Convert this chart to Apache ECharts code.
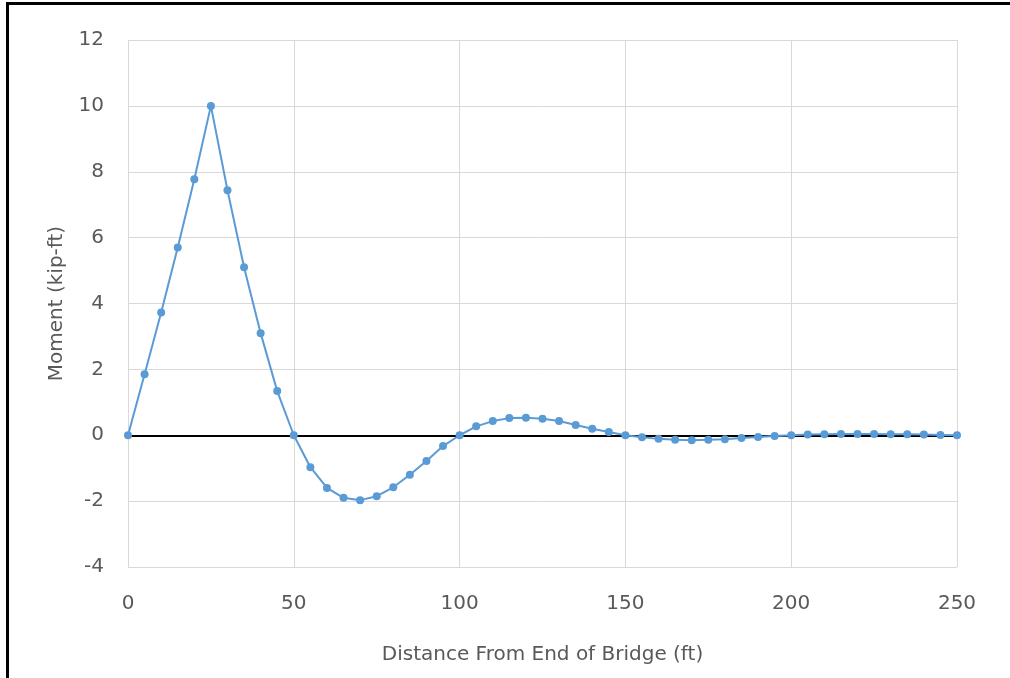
<!DOCTYPE html>
<html>
<head>
<meta charset="utf-8">
<script src="https://cdn.jsdelivr.net/npm/echarts@6/dist/echarts.min.js"></script>
<style>
  html, body { margin: 0; padding: 0; background: #fff; }
  #wrap { position: relative; width: 1010px; height: 678px; }
  #chart { position: absolute; left: 0; top: 0; width: 1010px; height: 678px; }
  .bt { position: absolute; left: 6px; top: 2px; width: 1004px; height: 3px; background: #000; }
  .bl { position: absolute; left: 6px; top: 2px; width: 3px; height: 676px; background: #000; }
</style>
</head>
<body>
<div id="wrap">
  <div id="chart"></div>
  <div class="bt"></div>
  <div class="bl"></div>
</div>
<script>
const distances = [0,5,10,15,20,25,30,35,40,45,50,55,60,65,70,75,80,85,90,95,100,
  105,110,115,120,125,130,135,140,145,150,155,160,165,170,175,180,185,190,195,200,
  205,210,215,220,225,230,235,240,245,250];
const moments = [0,1.85,3.73,5.7,7.77,10.0,7.44,5.1,3.1,1.34,0,-0.97,-1.6,-1.9,-1.97,-1.85,-1.58,-1.2,-0.78,-0.33,0,
  0.27,0.43,0.52,0.53,0.5,0.43,0.31,0.2,0.1,0,-0.06,-0.11,-0.14,-0.15,-0.14,-0.12,-0.08,-0.05,-0.02,0,
  0.02,0.03,0.04,0.04,0.04,0.03,0.03,0.02,0.01,0];
const xTitle = 'Distance From End of Bridge (ft)';
const yTitle = 'Moment (kip-ft)';

const font = 'DejaVu Sans';
const chart = echarts.init(document.getElementById('chart'));
chart.setOption({
  animation: false,
  backgroundColor: '#fff',
  grid: { left: 128, right: 53, top: 40, bottom: 111 },
  xAxis: {
    type: 'value', min: 0, max: 250, interval: 50,
    name: xTitle, nameLocation: 'middle', nameGap: 78,
    nameTextStyle: { color: '#595959', fontSize: 20, fontFamily: font },
    axisLine: { show: false },
    axisTick: { show: false },
    axisLabel: { color: '#595959', fontSize: 20, fontFamily: font, margin: 27 },
    splitLine: { show: true, lineStyle: { color: '#d9d9d9', width: 1 } }
  },
  yAxis: {
    type: 'value', min: -4, max: 12, interval: 2,
    name: yTitle, nameLocation: 'middle', nameGap: 61,
    nameTextStyle: { color: '#595959', fontSize: 20, fontFamily: font },
    axisLine: { show: false },
    axisTick: { show: false },
    axisLabel: { color: '#595959', fontSize: 20, fontFamily: font, margin: 24 },
    splitLine: { show: true, lineStyle: { color: '#d9d9d9', width: 1 } }
  },
  series: [{
    type: 'line',
    data: distances.map((d, i) => [d, moments[i]]),
    symbol: 'circle', symbolSize: 8,
    lineStyle: { color: '#5B9BD5', width: 2 },
    itemStyle: { color: '#5B9BD5' },
    z: 3,
    markLine: {
      silent: true, symbol: 'none', label: { show: false },
      lineStyle: { color: '#000', width: 2, type: 'solid' },
      data: [{ yAxis: 0 }],
      z: 2
    }
  }]
});
</script>
</body>
</html>
